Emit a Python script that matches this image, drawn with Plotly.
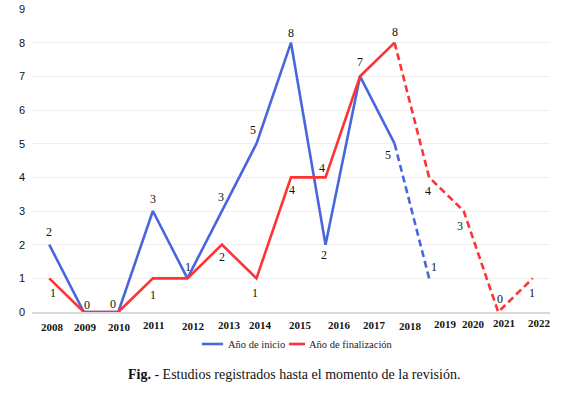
import plotly.graph_objects as go

# ---- data ----
years = ["2008", "2009", "2010", "2011", "2012", "2013", "2014", "2015",
         "2016", "2017", "2018", "2019", "2020", "2021", "2022"]
inicio = [2, 0, 0, 3, 1, 3, 5, 8, 2, 7, 5, 1]
final = [1, 0, 0, 1, 1, 2, 1, 4, 4, 7, 8, 4, 3, 0, 1]
serie_inicio = "Año de inicio"
serie_final = "Año de finalización"
caption = "<b>Fig.</b> - Estudios registrados hasta el momento de la revisión."

# index where the dashed (provisional) part starts
split = 10

# ---- styling / layout helpers ----
BLUE = "#4a66dc"
RED = "#ff3333"
SERIF = "Liberation Serif, Times New Roman, serif"
# label offsets (dx, dy) in px per point; None = no label
inicio_lab = [(0, 13), (3, 7), (-5, 8), (0, 12), (1, 11), (-1, 14), (-3, 14),
              (0, 10), (-2, -10), (0, 14), (-7, -11), (5, 11)]
final_lab = [(4, -15), None, None, (0, -17), None, (0, -12), (-1, -15),
             (1, -13), (-4, 9), None, (0, 11), (-1, -14), (-4, -15), (2, 13), (-1, -15)]
# x tick label shifts (dx, top y in px)
tick_shift = [(3, 325), (2, 325), (1, 325), (1, 323), (6, 324), (8, 323), (4, 323),
              (9, 323), (14, 323), (14, 323), (16, 324), (16, 322), (10, 322),
              (6, 321), (7, 321)]

L, R, T, B = 32, 19, 9, 87
W, H = 569, 399
PW, PH = W - L - R, H - T - B

def px_x(p):
    return (p - L) / PW

def px_y(p):
    return (H - B - p) / PH

fig = go.Figure()
xidx = list(range(len(years)))

def add_series(vals, color, name):
    n = len(vals)
    solid_end = min(split, n - 1)
    fig.add_trace(go.Scatter(
        x=xidx[:solid_end + 1], y=vals[:solid_end + 1], mode="lines",
        line=dict(color=color, width=2.6), name=name, showlegend=False))
    if n - 1 > split:
        fig.add_trace(go.Scatter(
            x=xidx[split:n], y=vals[split:n], mode="lines",
            line=dict(color=color, width=2.6, dash="7px,4px"),
            name=name, showlegend=False))

add_series(inicio, BLUE, serie_inicio)
add_series(final, RED, serie_final)

annotations = []
for vals, labs in ((inicio, inicio_lab), (final, final_lab)):
    for i, v in enumerate(vals):
        lab = labs[i]
        if lab is None:
            continue
        annotations.append(dict(
            x=xidx[i], y=v, xref="x", yref="y", text=str(v), showarrow=False,
            xshift=lab[0], yshift=lab[1],
            font=dict(family=SERIF, size=12, color="#111")))

for i, yr in enumerate(years):
    dx, ty = tick_shift[i]
    annotations.append(dict(
        x=xidx[i], y=0, xref="x", yref="paper", text="<b>%s</b>" % yr, showarrow=False,
        xshift=dx, yshift=-(ty - (H - B)) + 6, yanchor="top",
        font=dict(family=SERIF, size=11, color="#111")))

# manual legend (short line samples like the reference)
shapes = []
for (x0, x1, tx), color, name in (((202, 223, 226), BLUE, serie_inicio),
                                  ((289, 305, 307), RED, serie_final)):
    shapes.append(dict(type="line", xref="paper", yref="paper",
                       x0=px_x(x0), x1=px_x(x1), y0=px_y(344), y1=px_y(344),
                       line=dict(color=color, width=2.6)))
    annotations.append(dict(x=px_x(tx), y=px_y(344), xref="paper", yref="paper",
                            text=name, showarrow=False, xanchor="left", yanchor="middle",
                            font=dict(family=SERIF, size=10.5, color="#222")))

annotations.append(dict(
    x=px_x(294), y=px_y(374), xref="paper", yref="paper", text=caption, showarrow=False,
    yanchor="middle", xanchor="center",
    font=dict(family=SERIF, size=14, color="#111")))

fig.update_layout(
    width=W, height=H,
    margin=dict(l=L, r=R, t=T, b=B, autoexpand=False),
    paper_bgcolor="white", plot_bgcolor="white",
    showlegend=False,
    annotations=annotations, shapes=shapes,
)
fig.update_xaxes(range=[-0.5, 14.5], showticklabels=False,
                 showgrid=False, zeroline=False, showline=True,
                 linecolor="#d9d9d9", linewidth=2, ticks="")
fig.update_yaxes(range=[0, 9], dtick=1, showgrid=True, gridcolor="#efefef", gridwidth=1,
                 zeroline=False, showline=False, ticks="",
                 tickfont=dict(family="Liberation Sans, Arial, sans-serif", size=11, color="#111"),
                 ticklabelstandoff=6)

fig.write_html("out.html", config={"displayModeBar": False},
               post_script="document.body.style.margin='0';")
